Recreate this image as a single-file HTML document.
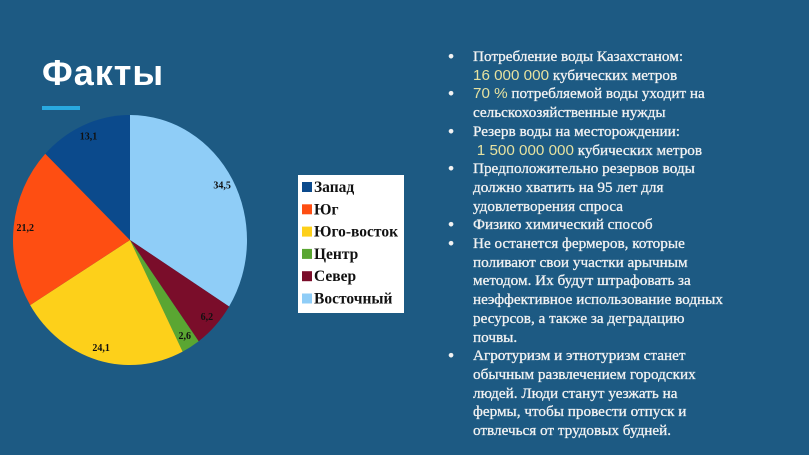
<!DOCTYPE html>
<html><head><meta charset="utf-8"><style>
body{margin:0;width:809px;height:455px;background:#1d5a83;overflow:hidden;position:relative;font-family:"Liberation Serif",serif;}
.title{position:absolute;left:42px;top:52px;font-family:"Liberation Sans",sans-serif;font-size:36px;font-weight:bold;color:#fff;letter-spacing:1px;}
.accent{position:absolute;left:42px;top:106px;width:38px;height:4px;background:#29a9e0;}
.list{position:absolute;left:450px;top:48px;width:360px;color:#f2f2f2;font-size:15.2px;line-height:18.7px;white-space:nowrap;-webkit-text-stroke:0.3px #f2f2f2;}
.item{position:relative;padding-left:23px;}
.item:before{content:"●";position:absolute;left:-2px;font-size:10px;}
.hl{color:#e6e2a0;font-family:"Liberation Sans",sans-serif;-webkit-text-stroke:0;}
</style></head><body>
<div class="title">Факты</div>
<div class="accent"></div>
<svg id="chart" width="420" height="400" style="position:absolute;left:0;top:0"></svg>
<div class="list">
<div class="item">Потребление воды Казахстаном:<br><span class="hl">16 000 000</span> кубических метров</div>
<div class="item"><span class="hl">70 %</span> потребляемой воды уходит на<br>сельскохозяйственные нужды</div>
<div class="item">Резерв воды на месторождении:<br>&nbsp;<span class="hl">1 500 000 000</span> кубических метров</div>
<div class="item">Предположительно резервов воды<br>должно хватить на 95 лет для<br>удовлетворения спроса</div>
<div class="item">Физико химический способ</div>
<div class="item">Не останется фермеров, которые<br>поливают свои участки арычным<br>методом. Их будут штрафовать за<br>неэффективное использование водных<br>ресурсов, а также за деградацию<br>почвы.</div>
<div class="item">Агротуризм и этнотуризм станет<br>обычным развлечением городских<br>людей. Люди станут уезжать на<br>фермы, чтобы провести отпуск и<br>отвлечься от трудовых будней.</div>
</div>
<script>
const categories=["Восточный","Север","Центр","Юго-восток","Юг","Запад"];
const values=[34.5,6.2,2.6,24.1,21.2,13.1];
const labels=["34,5","6,2","2,6","24,1","21,2","13,1"];
const colors=["#8fcdf7","#7a0d2a","#5aa632","#fdd01a","#fe4e12","#0b4a8c"];
const legendOrder=[5,4,3,2,1,0];
const svg=document.getElementById('chart');const NS="http://www.w3.org/2000/svg";
const cx=130,cy=240,rx=117,ry=125;
const total=values.reduce((a,b)=>a+b,0);
function pt(a,f){return [cx+rx*f*Math.sin(a),cy-ry*f*Math.cos(a)];}
let acc=0;
values.forEach((v,i)=>{
 const a0=acc/total*2*Math.PI;acc+=v;const a1=acc/total*2*Math.PI;
 const p0=pt(a0,1),p1=pt(a1,1);
 const p=document.createElementNS(NS,'path');
 p.setAttribute('d',`M${cx},${cy}L${p0[0]},${p0[1]}A${rx},${ry} 0 ${a1-a0>Math.PI?1:0} 1 ${p1[0]},${p1[1]}Z`);
 p.setAttribute('fill',colors[i]);
 
 
 svg.appendChild(p);
 const m=(a0+a1)/2,lp=pt(m,0.9);
 const t=document.createElementNS(NS,'text');
 t.setAttribute('x',lp[0]);t.setAttribute('y',lp[1]+3);t.setAttribute('text-anchor','middle');
 t.setAttribute('font-size','10');t.setAttribute('font-weight','bold');t.setAttribute('font-family','Liberation Serif, serif');
 t.setAttribute('fill','#111');t.textContent=labels[i];
 
 
 svg.appendChild(t);
});
const box=document.createElementNS(NS,'rect');
box.setAttribute('x',298);box.setAttribute('y',175);box.setAttribute('width',106);box.setAttribute('height',138);box.setAttribute('fill','#fff');


svg.appendChild(box);
legendOrder.forEach((idx,k)=>{
 const y=188+k*22.3;
 const s=document.createElementNS(NS,'rect');
 s.setAttribute('x',302);s.setAttribute('y',y-6);s.setAttribute('width',10);s.setAttribute('height',10);s.setAttribute('fill',colors[idx]);
 
 
 svg.appendChild(s);
 const t=document.createElementNS(NS,'text');
 t.setAttribute('x',314);t.setAttribute('y',y+4);t.setAttribute('font-size','15.5');t.setAttribute('font-weight','bold');
 t.setAttribute('font-family','Liberation Serif, serif');t.setAttribute('fill','#111');t.textContent=categories[idx];
 
 
 svg.appendChild(t);
});
</script>
</body></html>
